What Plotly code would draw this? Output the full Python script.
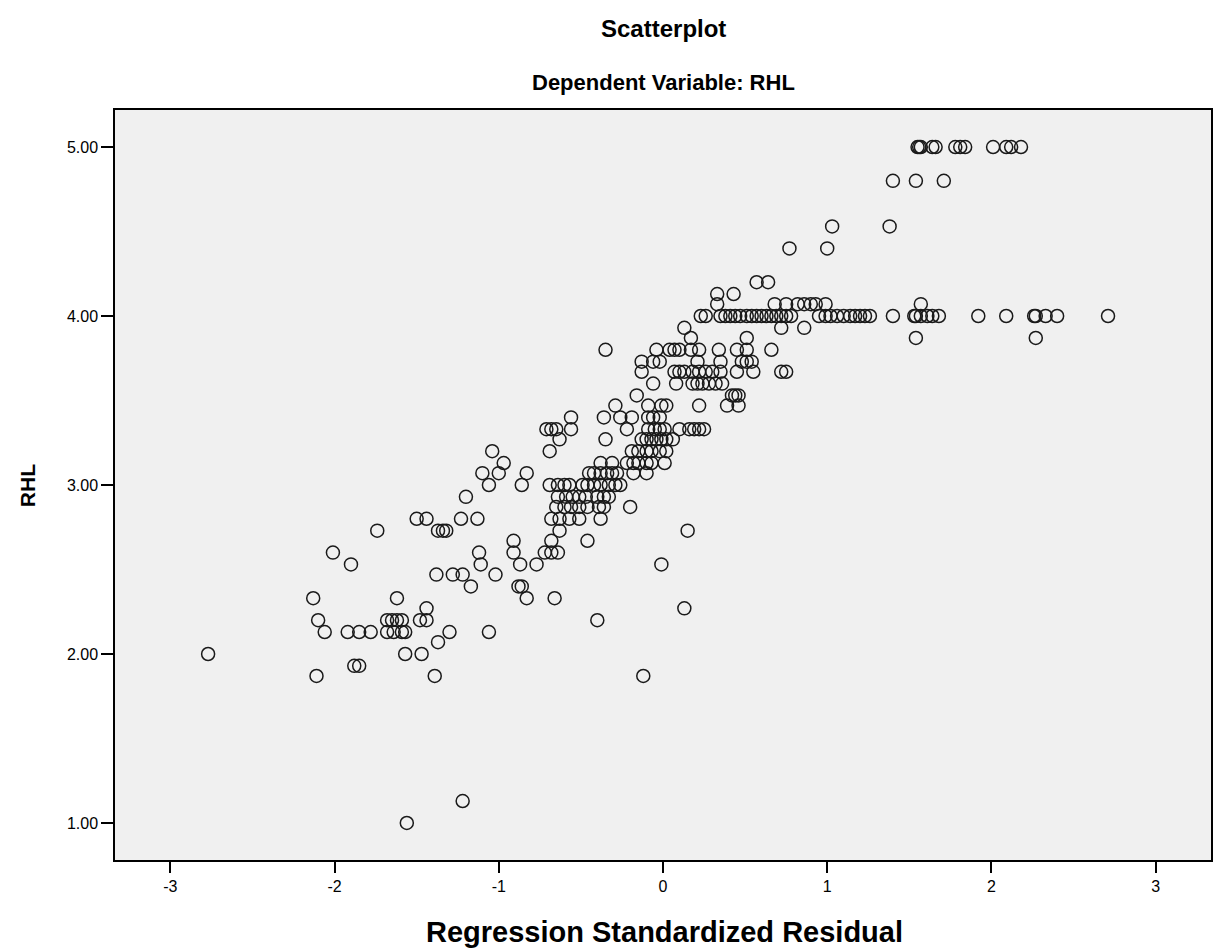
import plotly.graph_objects as go

# RHL levels (dependent variable) and the standardized residuals observed at each level
rhl_levels = [5.00, 4.80, 4.53, 4.40, 4.20, 4.13, 4.07, 4.00, 3.93, 3.87, 3.80, 3.73, 3.67,
              3.60, 3.53, 3.47, 3.40, 3.33, 3.27, 3.20, 3.13, 3.07, 3.00, 2.93, 2.87, 2.80,
              2.73, 2.67, 2.60, 2.53, 2.47, 2.40, 2.33, 2.27, 2.20, 2.13, 2.07, 2.00, 1.93,
              1.87, 1.13, 1.00]

residuals_by_level = [
    [1.55, 1.56, 1.57, 1.64, 1.66, 1.78, 1.81, 1.84, 2.01, 2.09, 2.12, 2.18],
    [1.40, 1.54, 1.71],
    [1.03, 1.38],
    [0.77, 1.00],
    [0.57, 0.64],
    [0.33, 0.43],
    [0.33, 0.68, 0.75, 0.82, 0.86, 0.90, 0.93, 0.99, 1.57],
    [0.23, 0.26, 0.35, 0.38, 0.41, 0.44, 0.47, 0.51, 0.54, 0.57, 0.60, 0.63, 0.66, 0.69,
     0.72, 0.75, 0.78, 0.95, 0.99, 1.02, 1.06, 1.10, 1.14, 1.17, 1.20, 1.23, 1.26, 1.40,
     1.53, 1.54, 1.57, 1.61, 1.64, 1.68, 1.92, 2.09, 2.26, 2.27, 2.33, 2.40, 2.71],
    [0.13, 0.72, 0.86],
    [0.17, 0.51, 1.54, 2.27],
    [-0.35, -0.04, 0.04, 0.07, 0.10, 0.17, 0.22, 0.34, 0.45, 0.51, 0.66],
    [-0.13, -0.06, -0.02, 0.21, 0.35, 0.48, 0.51, 0.54],
    [-0.13, 0.07, 0.10, 0.13, 0.18, 0.22, 0.26, 0.30, 0.35, 0.45, 0.55, 0.72, 0.75],
    [-0.06, 0.08, 0.18, 0.21, 0.24, 0.28, 0.32, 0.36],
    [-0.16, 0.42, 0.44, 0.46],
    [-0.29, -0.09, -0.01, 0.02, 0.22, 0.39, 0.46],
    [-0.56, -0.36, -0.26, -0.19, -0.09, -0.06, -0.02],
    [-0.71, -0.68, -0.65, -0.56, -0.22, -0.09, -0.05, -0.02, 0.01, 0.10, 0.16, 0.19, 0.22, 0.25],
    [-0.63, -0.35, -0.13, -0.10, -0.07, -0.04, -0.01, 0.02, 0.06],
    [-1.04, -0.69, -0.19, -0.15, -0.10, -0.07, -0.02, 0.02],
    [-0.97, -0.38, -0.31, -0.22, -0.18, -0.15, -0.10, -0.07, 0.01],
    [-1.10, -1.00, -0.83, -0.45, -0.42, -0.38, -0.34, -0.31, -0.28, -0.18, -0.10],
    [-1.06, -0.86, -0.69, -0.64, -0.60, -0.57, -0.49, -0.46, -0.42, -0.38, -0.33, -0.29, -0.26],
    [-1.20, -0.64, -0.59, -0.55, -0.51, -0.47, -0.40, -0.36, -0.33],
    [-0.65, -0.60, -0.56, -0.51, -0.46, -0.39, -0.36, -0.20],
    [-1.50, -1.44, -1.23, -1.13, -0.68, -0.63, -0.57, -0.51, -0.38],
    [-1.74, -1.37, -1.34, -1.32, -0.63, 0.15],
    [-0.91, -0.68, -0.46],
    [-2.01, -1.12, -0.91, -0.72, -0.68, -0.64],
    [-1.90, -1.11, -0.87, -0.77, -0.01],
    [-1.38, -1.28, -1.22, -1.02],
    [-1.17, -0.88, -0.86],
    [-2.13, -1.62, -0.83, -0.66],
    [-1.44, 0.13],
    [-2.10, -1.68, -1.65, -1.62, -1.59, -1.48, -1.44, -0.40],
    [-2.06, -1.92, -1.85, -1.78, -1.68, -1.64, -1.59, -1.57, -1.30, -1.06],
    [-1.37],
    [-2.77, -1.57, -1.47],
    [-1.88, -1.85],
    [-2.11, -1.39, -0.12],
    [-1.22],
    [-1.56],
]

x_ticks = [-3, -2, -1, 0, 1, 2, 3]
y_ticks = [1.0, 2.0, 3.0, 4.0, 5.0]

residual = []
rhl = []
for level, vals in zip(rhl_levels, residuals_by_level):
    for v in vals:
        residual.append(v)
        rhl.append(level)

FONT = "Liberation Sans, Arial, sans-serif"
W, H = 1215, 951
ML, MR, MT, MB = 115, 2, 110, 91
PW, PH = W - ML - MR, H - MT - MB


def py(pix):  # pixel row -> paper y
    return 1 - (pix - MT) / PH


def px(pix):  # pixel column -> paper x
    return (pix - ML) / PW


fig = go.Figure(go.Scatter(
    x=residual, y=rhl, mode="markers",
    marker=dict(symbol="circle-open", size=13, color="#1a1a1a",
                line=dict(width=1.5, color="#1a1a1a")),
    hoverinfo="x+y", showlegend=False,
))

fig.update_layout(
    width=W, height=H,
    margin=dict(l=ML, r=MR, t=MT, b=MB),
    paper_bgcolor="white", plot_bgcolor="#f0f0f0",
    font=dict(family=FONT, color="black"),
    annotations=[
        dict(text="<b>Scatterplot</b>", x=px(664), xref="paper", y=py(28), yref="paper",
             yanchor="middle", showarrow=False, font=dict(size=24, family=FONT)),
        dict(text="<b>Dependent Variable: RHL</b>", x=px(665), xref="paper",
             y=py(83), yref="paper", yanchor="middle", showarrow=False,
             font=dict(size=22, family=FONT)),
        dict(text="<b>Regression Standardized Residual</b>", x=px(666), xref="paper",
             y=py(932), yref="paper", yanchor="middle", showarrow=False,
             font=dict(size=29, family=FONT)),
        dict(text="<b>RHL</b>", x=px(27), xref="paper", y=py(486), yref="paper",
             xanchor="center", yanchor="middle", textangle=-90, showarrow=False,
             font=dict(size=21, family=FONT)),
    ],
)

fig.update_xaxes(
    range=[-3.337, 3.337], tickvals=x_ticks, ticktext=[str(t) for t in x_ticks],
    showgrid=False, zeroline=False, showline=True, linecolor="black", linewidth=1.5,
    mirror=True, ticks="outside", ticklen=11, tickwidth=1.5, tickcolor="black",
    tickfont=dict(size=16, family=FONT),
)
fig.update_yaxes(
    range=[0.781, 5.219], tickvals=y_ticks, ticktext=[f"{t:.2f}" for t in y_ticks],
    showgrid=False, zeroline=False, showline=True, linecolor="black", linewidth=1.5,
    mirror=True, ticks="outside", ticklen=12, tickwidth=1.5, tickcolor="black",
    tickfont=dict(size=16, family=FONT),
)

fig.write_html("out.html", config={"displayModeBar": False},
               post_script="document.body.style.margin='0px';")
